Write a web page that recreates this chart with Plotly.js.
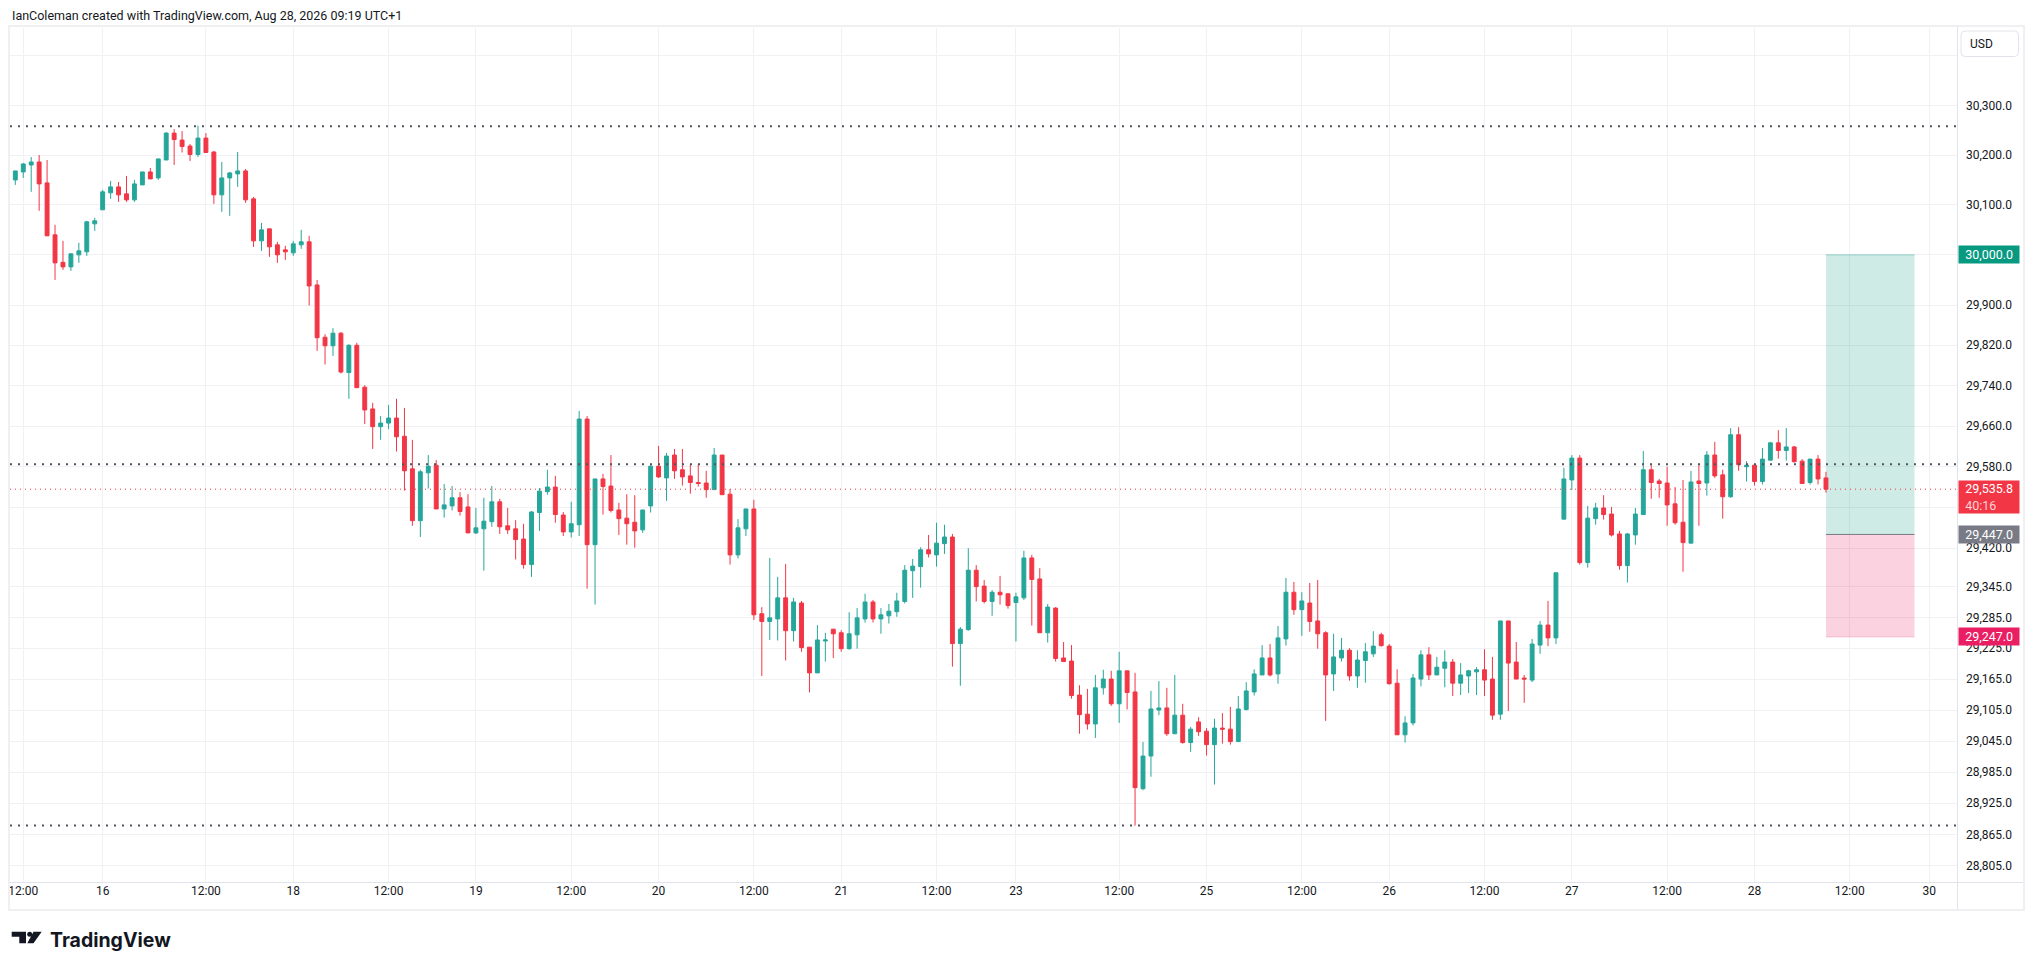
<!DOCTYPE html>
<html>
<head>
<meta charset="utf-8">
<script src="https://cdn.plot.ly/plotly-3.0.1.min.js"></script>
<style>
html,body{margin:0;padding:0;background:#ffffff;}
#chart{width:2033px;height:970px;}
</style>
</head>
<body>
<div id="chart"></div>
<script>
// ---------------- DATA (hourly bars, index 0 = Fri 14 Aug 12:00) ----------------
const firstBarIndex = -2;
const opens = [
30136,30150,30166,30180,30186,30144,30040,29985,29976,30000,30006,30062,
30090,30124,30136,30122,30110,30140,30166,30154,30190,30244,
30230,30218,30201,30234,30206,30120,30154,30162,30168,30112,
30028,30052,30020,30010,30004,30020,30026,29940,29836,29819,
29844,29766,29820,29737,29694,29659,29666,29676,29640,29576,
29474,29568,29583,29497,29503,29519,29501,29450,29458,29472,
29511,29464,29458,29438,29388,29490,29531,29540,29485,29452,
29466,29674,29427,29556,29542,29495,29479,29471,29456,29503,
29581,29558,29603,29574,29562,29549,29548,29535,29603,29526,
29407,29458,29497,29292,29277,29282,29323,29259,29313,29227,
29177,29239,29262,29255,29224,29251,29282,29315,29282,29288,
29296,29316,29376,29384,29417,29407,29429,29442,29234,29261,
29377,29346,29316,29334,29331,29314,29323,29401,29360,29255,
29303,29206,29200,29134,29097,29078,29148,29165,29117,29181,
29140,28953,29016,29105,29109,29059,29095,29042,29082,29064,
29038,29070,29068,29044,29106,29140,29173,29206,29175,29243,
29334,29300,29313,29278,29255,29175,29206,29221,29171,29201,
29214,29251,29229,29157,29057,29080,29165,29212,29173,29186,
29198,29157,29171,29179,29183,29165,29097,29278,29198,29167,
29163,29231,29270,29245,29477,29554,29597,29392,29478,29499,
29487,29448,29386,29446,29486,29574,29552,29548,29507,29471,
29430,29552,29548,29603,29564,29521,29643,29580,29583,29551,
29593,29627,29612,29619,29591,29549,29595,29558
];
const highs = [
30155,30168,30184,30196,30200,30190,30060,30028,30003,30024,30068,30074,
30130,30148,30146,30158,30150,30166,30174,30193,30246,30252,
30248,30222,30259,30244,30208,30186,30166,30206,30172,30116,
30064,30052,30026,30018,30028,30050,30038,29950,29842,29854,
29846,29822,29825,29741,29706,29680,29702,29714,29696,29633,
29574,29603,29593,29546,29542,29530,29526,29499,29519,29542,
29517,29499,29475,29468,29493,29538,29574,29562,29491,29511,
29690,29680,29556,29566,29603,29509,29526,29524,29495,29583,
29621,29607,29615,29615,29585,29585,29572,29617,29603,29536,
29477,29497,29515,29305,29401,29364,29389,29323,29317,29227,
29270,29255,29262,29260,29295,29303,29331,29319,29303,29311,
29333,29387,29399,29422,29446,29470,29466,29448,29266,29420,
29387,29358,29338,29366,29331,29333,29415,29407,29381,29311,
29305,29237,29231,29153,29146,29173,29183,29181,29218,29181,
29177,29043,29142,29161,29148,29173,29117,29072,29091,29070,
29088,29099,29111,29132,29159,29184,29231,29233,29268,29362,
29354,29334,29352,29358,29258,29253,29245,29225,29221,29235,
29258,29255,29233,29184,29093,29175,29221,29227,29208,29221,
29204,29196,29183,29188,29223,29208,29278,29278,29237,29173,
29243,29278,29317,29372,29578,29603,29603,29503,29509,29524,
29501,29454,29450,29499,29611,29583,29556,29580,29540,29554,
29572,29583,29611,29629,29574,29656,29658,29591,29583,29617,
29629,29652,29656,29621,29595,29595,29603,29570
];
const lows = [
30132,30140,30154,30126,30088,30038,29950,29970,29968,29984,29998,30048,
30090,30112,30106,30106,30106,30140,30152,30150,30190,30180,
30205,30188,30196,30205,30102,30086,30078,30136,30104,30016,
30008,29996,29984,29990,29998,30012,29899,29809,29782,29799,
29764,29714,29736,29664,29615,29633,29654,29610,29533,29464,
29442,29537,29497,29480,29494,29484,29450,29448,29376,29462,
29448,29448,29398,29380,29364,29454,29525,29470,29444,29441,
29444,29341,29310,29486,29490,29446,29427,29421,29450,29490,
29558,29513,29556,29543,29527,29541,29519,29535,29525,29388,
29400,29444,29280,29171,29241,29240,29201,29238,29218,29139,
29177,29199,29206,29218,29222,29224,29275,29275,29253,29273,
29286,29312,29323,29343,29402,29384,29409,29189,29152,29259,
29316,29312,29288,29310,29302,29238,29319,29269,29255,29236,
29199,29199,29127,29059,29067,29051,29135,29113,29080,29106,
28882,28950,28976,29095,29055,29059,29040,29024,29055,29017,
28961,29040,29038,29044,29104,29133,29173,29170,29156,29230,
29290,29249,29257,29224,29084,29142,29199,29162,29148,29158,
29208,29228,29154,29057,29042,29075,29151,29163,29173,29149,
29132,29134,29138,29134,29132,29086,29086,29103,29165,29119,
29159,29214,29229,29233,29477,29534,29388,29382,29466,29476,
29443,29378,29353,29427,29486,29517,29519,29464,29466,29374,
29430,29464,29523,29558,29478,29519,29572,29551,29543,29545,
29592,29596,29592,29588,29547,29545,29545,29529
];
const closes = [
30152,30168,30182,30186,30142,30038,29984,29976,30002,30008,30066,30068,
30126,30136,30120,30110,30142,30166,30152,30192,30244,30231,
30217,30201,30234,30205,30120,30154,30164,30168,30110,30028,
30050,30016,30000,30006,30022,30026,29938,29835,29819,29844,
29767,29820,29736,29692,29659,29666,29676,29639,29572,29474,
29570,29581,29497,29505,29519,29492,29450,29460,29473,29511,
29462,29456,29437,29388,29491,29532,29540,29486,29452,29468,
29674,29427,29556,29541,29494,29478,29468,29454,29495,29581,
29560,29601,29572,29560,29549,29547,29535,29603,29525,29407,
29460,29497,29290,29277,29284,29323,29259,29315,29226,29177,
29241,29241,29253,29224,29253,29284,29315,29282,29290,29297,
29317,29377,29385,29417,29409,29430,29442,29234,29262,29377,
29345,29316,29334,29329,29308,29325,29401,29359,29255,29305,
29205,29199,29133,29096,29078,29148,29165,29117,29181,29139,
28955,29016,29107,29109,29059,29095,29042,29068,29063,29038,
29070,29068,29044,29107,29142,29175,29206,29173,29245,29334,
29300,29317,29277,29253,29173,29208,29221,29171,29202,29218,
29229,29230,29156,29057,29080,29167,29212,29173,29188,29198,
29157,29173,29181,29183,29163,29095,29278,29196,29165,29165,
29233,29270,29245,29372,29556,29597,29392,29479,29499,29486,
29446,29386,29448,29487,29574,29549,29547,29505,29470,29431,
29550,29547,29603,29562,29521,29643,29584,29583,29551,29595,
29627,29612,29619,29590,29547,29595,29556,29535.8
];

// horizontal levels (dotted) and position tool
const levelPrices = [30258, 29585, 28882];
const lastPrice = 29535.8;
const barCountdown = '40:16';
const targetPrice = 30000;
const entryPrice = 29447;
const stopPrice = 29247;

// axis ticks (labels hidden under the price tags are left blank)
const yTickVals = [30400,30300,30200,30100,30000,29900,29820,29740,29660,29580,29500,
                   29420,29345,29285,29225,29165,29105,29045,28985,28925,28865,28805];
const yTickText = ['','30,300.0','30,200.0','30,100.0','','29,900.0','29,820.0','29,740.0',
                   '29,660.0','29,580.0','','29,420.0','29,345.0','29,285.0','29,225.0',
                   '29,165.0','29,105.0','29,045.0','28,985.0','28,925.0','28,865.0','28,805.0'];
const xTickIdx    = [0,10,23,34,46,57,69,80,92,103,115,125,138,149,161,172,184,195,207,218,230,240];
const xTickLabels = ['12:00','16','12:00','18','12:00','19','12:00','20','12:00','21','12:00',
                     '23','12:00','25','12:00','26','12:00','27','12:00','28','12:00','30'];

const headerText = 'IanColeman created with TradingView.com, Aug 28, 2026 09:19 UTC+1';
const currency = 'USD';

// ---------------- LAYOUT HELPERS ----------------
const W = 2033, H = 970;
const PL = 10, PR = 1957, PT = 28, PB = 882;
const pw = PR - PL, ph = PB - PT;
const px2x = px => (px - PL) / pw;
const py2y = py => (PB - py) / ph;
const fmt = v => v.toLocaleString('en-US', {minimumFractionDigits: 1, maximumFractionDigits: 1});

const barIdx = opens.map((_, k) => k + firstBarIndex);

const UP = '#26a69a', DOWN = '#f23645';
const TXT = '#131722';
const FONT = 'Roboto, "Noto Sans", sans-serif';

const traces = [{
  type: 'candlestick',
  x: barIdx, open: opens, high: highs, low: lows, close: closes,
  increasing: {line: {color: UP, width: 1}, fillcolor: UP},
  decreasing: {line: {color: DOWN, width: 1}, fillcolor: DOWN},
  whiskerwidth: 0,
  hoverinfo: 'skip',
  showlegend: false
}];

const shapes = [];
// position tool boxes
shapes.push({type: 'rect', xref: 'x', yref: 'y', x0: 227, x1: 238.15, y0: entryPrice, y1: targetPrice,
  fillcolor: 'rgba(8,153,129,0.2)', line: {width: 0}, layer: 'between'});
shapes.push({type: 'rect', xref: 'x', yref: 'y', x0: 227, x1: 238.15, y0: stopPrice, y1: entryPrice,
  fillcolor: 'rgba(233,30,99,0.2)', line: {width: 0}, layer: 'between'});
shapes.push({type: 'line', xref: 'x', yref: 'y', x0: 227, x1: 238.15, y0: targetPrice, y1: targetPrice,
  line: {color: 'rgba(8,153,129,0.35)', width: 1}, layer: 'between'});
shapes.push({type: 'line', xref: 'x', yref: 'y', x0: 227, x1: 238.15, y0: entryPrice, y1: entryPrice,
  line: {color: '#787b86', width: 1}, layer: 'between'});
shapes.push({type: 'line', xref: 'x', yref: 'y', x0: 227, x1: 238.15, y0: stopPrice, y1: stopPrice,
  line: {color: 'rgba(233,30,99,0.25)', width: 1}, layer: 'between'});
// dotted horizontal levels
levelPrices.forEach(p => shapes.push({type: 'line', xref: 'paper', yref: 'y', x0: 0, x1: 1, y0: p, y1: p,
  line: {color: '#50535e', width: 2, dash: '2px,6px'}, layer: 'above'}));
// last price line
shapes.push({type: 'line', xref: 'paper', yref: 'y', x0: 0, x1: 1, y0: lastPrice, y1: lastPrice,
  line: {color: DOWN, width: 1, dash: '1px,4px'}, layer: 'above'});

// frame lines
const lineCol = '#e0e3eb';
shapes.push({type: 'line', xref: 'paper', yref: 'paper', x0: px2x(9), x1: px2x(2024), y0: py2y(882.5), y1: py2y(882.5),
  line: {color: lineCol, width: 1}});
shapes.push({type: 'line', xref: 'paper', yref: 'paper', x0: px2x(1957.5), x1: px2x(1957.5), y0: py2y(26), y1: py2y(910),
  line: {color: lineCol, width: 1}});
shapes.push({type: 'rect', xref: 'paper', yref: 'paper', x0: px2x(9), x1: px2x(2024), y0: py2y(26), y1: py2y(910),
  line: {color: '#f0f0f2', width: 2}, fillcolor: 'rgba(0,0,0,0)'});

// rounded USD box
function roundRectPath(x0, y0, x1, y1, r) {
  const X = px2x, Y = py2y;
  return `M ${X(x0 + r)},${Y(y0)} L ${X(x1 - r)},${Y(y0)} Q ${X(x1)},${Y(y0)} ${X(x1)},${Y(y0 + r)} ` +
         `L ${X(x1)},${Y(y1 - r)} Q ${X(x1)},${Y(y1)} ${X(x1 - r)},${Y(y1)} L ${X(x0 + r)},${Y(y1)} ` +
         `Q ${X(x0)},${Y(y1)} ${X(x0)},${Y(y1 - r)} L ${X(x0)},${Y(y0 + r)} Q ${X(x0)},${Y(y0)} ${X(x0 + r)},${Y(y0)} Z`;
}
shapes.push({type: 'path', xref: 'paper', yref: 'paper', path: roundRectPath(1961, 31, 2018.5, 56.5, 4),
  fillcolor: '#ffffff', line: {color: lineCol, width: 1}, layer: 'above'});

// TradingView logo mark
function polyPath(pts) {
  return 'M ' + pts.map(p => `${px2x(p[0])},${py2y(p[1])}`).join(' L ') + ' Z';
}
shapes.push({type: 'path', xref: 'paper', yref: 'paper',
  path: polyPath([[11.7, 931.7], [26, 931.7], [26, 943.3], [19.3, 943.3], [19.3, 936.7], [11.7, 936.7]]),
  fillcolor: TXT, line: {width: 0}});
shapes.push({type: 'circle', xref: 'paper', yref: 'paper', x0: px2x(27.2), x1: px2x(32.2), y0: py2y(931.7), y1: py2y(936.7),
  fillcolor: TXT, line: {width: 0}});
shapes.push({type: 'path', xref: 'paper', yref: 'paper',
  path: polyPath([[33.5, 931.7], [41.7, 931.7], [33.5, 943.3], [27.3, 943.3]]),
  fillcolor: TXT, line: {width: 0}});

// ---------------- ANNOTATIONS ----------------
const annotations = [];
annotations.push({xref: 'paper', yref: 'paper', x: px2x(10), y: py2y(15), xanchor: 'left', yanchor: 'middle',
  text: headerText, showarrow: false, font: {family: FONT, size: 12.5, color: TXT}});
annotations.push({xref: 'paper', yref: 'paper', x: px2x(48), y: py2y(940), xanchor: 'left', yanchor: 'middle',
  text: '<b>TradingView</b>', showarrow: false, font: {family: 'Inter, Roboto, sans-serif', size: 19.5, color: TXT}});
annotations.push({xref: 'paper', yref: 'paper', x: px2x(1968), y: py2y(44), xanchor: 'left', yanchor: 'middle',
  text: currency, showarrow: false, font: {family: FONT, size: 12, color: TXT}});

// price tags on the axis (boxes with text)
function tag(value, text, color, h, yshift, yanchor) {
  annotations.push({xref: 'paper', yref: 'y', x: 1, xshift: 1, y: Math.log10(value), yshift: yshift,
    xanchor: 'left', yanchor: yanchor, align: 'left', valign: 'middle', showarrow: false,
    width: 60, height: h, borderpad: 0, bgcolor: color, text: text,
    font: {family: FONT, size: 12.5, color: '#ffffff'}});
}
const pad = '&nbsp;&nbsp;';
tag(targetPrice, pad + fmt(targetPrice), '#089981', 16.5, 0, 'middle');
tag(entryPrice, pad + fmt(entryPrice), '#787b86', 16.5, 0, 'middle');
tag(stopPrice, pad + fmt(stopPrice), '#e91e63', 16.5, 0, 'middle');
tag(lastPrice, pad + fmt(lastPrice) + '<br>' + pad + '<span style="color:#fcd3d7">' + barCountdown + '</span>',
    DOWN, 32, 9, 'top');

// ---------------- LAYOUT ----------------
const layout = {
  width: W, height: H,
  margin: {l: PL, r: W - PR, t: PT, b: H - PB, pad: 0},
  paper_bgcolor: '#ffffff', plot_bgcolor: '#ffffff',
  showlegend: false,
  font: {family: FONT, size: 12, color: TXT},
  xaxis: {
    type: 'linear', range: [-1.67, 243.5], fixedrange: true,
    rangeslider: {visible: false},
    tickmode: 'array', tickvals: xTickIdx, ticktext: xTickLabels,
    showgrid: true, gridcolor: '#f0f1f4', gridwidth: 1,
    zeroline: false, showline: false, ticks: '',
    tickfont: {family: FONT, size: 12, color: TXT}
  },
  yaxis: {
    type: 'log', side: 'right', fixedrange: true,
    range: [Math.log10(28773.8), Math.log10(30456.3)],
    tickmode: 'array', tickvals: yTickVals, ticktext: yTickText,
    showgrid: true, gridcolor: '#f0f1f4', gridwidth: 1,
    zeroline: false, showline: false, ticks: '',
    ticklabelstandoff: 8,
    tickfont: {family: FONT, size: 12, color: TXT}
  },
  shapes: shapes,
  annotations: annotations
};

Plotly.newPlot('chart', traces, layout, {staticPlot: true, displayModeBar: false});
</script>
</body>
</html>
